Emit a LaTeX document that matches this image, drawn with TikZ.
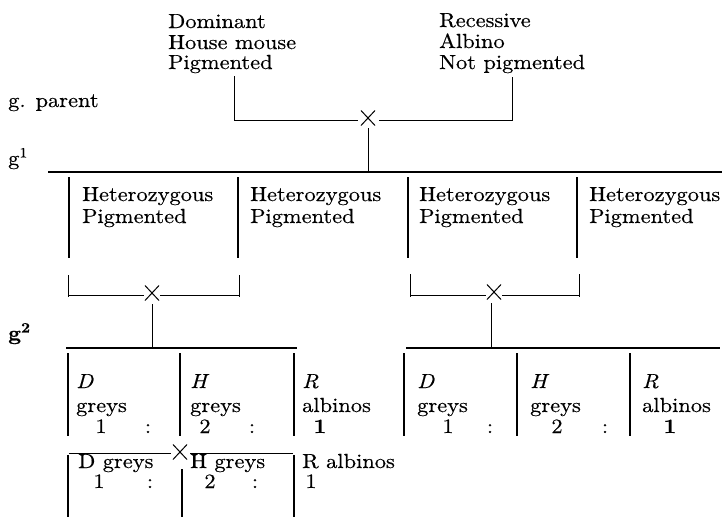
\documentclass[tikz,border=0pt]{standalone}
\usepackage{fontspec}
\setmainfont{lmroman10-regular}[Extension=.otf, FakeStretch=1.1, FakeBold=0.4, ItalicFont=lmroman10-italic, BoldFont=lmroman10-bold]
\usetikzlibrary{shapes.misc}
\tikzset{
  txt/.style={font=\fontsize{20.4}{22}\selectfont, inner sep=0pt, anchor=base west},
  num/.style={font=\fontsize{20.4}{22}\selectfont, inner sep=0pt, anchor=base},
  thinln/.style={line width=0.9pt},
  divln/.style={line width=1.5pt},
  genln/.style={line width=2.2pt},
  g2ln/.style={line width=1.7pt},
  crossmark/.style={cross out, draw, line width=1pt, minimum width=13pt, minimum height=14pt, inner sep=0pt},
}
\begin{document}
\begin{tikzpicture}[x=1pt,y=-1pt]
\useasboundingbox (0,0) rectangle (724,517);
% ---------- parents ----------
\node[txt] (dom1) at (168,28) {Dominant};
\node[txt] (dom2) at (168,49) {House mouse};
\node[txt] (dom3) at (168,69) {Pigmented};
\node[txt] (rec1) at (439,27) {Recessive};
\node[txt] (rec2) at (439,48) {Albino};
\node[txt] (rec3) at (439,69) {Not pigmented};
% generation labels
\node[txt] (gp) at (8,107) {g. parent};
\node[txt] (g1) at (8,165) {g\textsuperscript{1}};
\node[txt] (g2) at (8,340) {\textbf{g\textsuperscript{2}}};
% first cross
\node[crossmark] (x1) at (368,118) {};
\coordinate (pa) at (234,76);
\coordinate (pb) at (234,120);
\coordinate (pbx) at (358,120);
\coordinate (pcx) at (379,120);
\coordinate (pc) at (512,77);
\coordinate (pd) at (512,120);
\draw[thinln] (pa) -- (pb) -- (pbx);
\draw[thinln] (pcx) -- (pd) -- (pc);
\coordinate (x1d) at (368,128);
\coordinate (g1m) at (368,172);
\draw[thinln] (x1d) -- (g1m);
% g1 line
\coordinate (g1l) at (48,172);
\coordinate (g1r) at (722,172);
\draw[genln] (g1l) -- (g1r);
% g1 columns
\foreach \x/\n in {69/a,238/b,408/c,577/d}{
  \coordinate (d1\n t) at (\x,177);
  \coordinate (d1\n b) at (\x,258);
  \draw[divln] (d1\n t) -- (d1\n b);
}
\foreach \x/\n in {82/a,250/b,419/c,589/d}{
  \node[txt] (het\n) at (\x,201) {Heterozygous};
  \node[txt] (pig\n) at (\x,223) {Pigmented};
}
% second crosses
\node[crossmark] (x2) at (152,293) {};
\coordinate (la) at (68,275);  \coordinate (lb) at (68,297);
\coordinate (lra) at (239,275); \coordinate (lrb) at (239,297);
\coordinate (lh1) at (68,295); \coordinate (lh2) at (144,295);
\coordinate (lh3) at (160,295); \coordinate (lh4) at (239,295);
\draw[thinln] (la) -- (lb);
\draw[thinln] (lra) -- (lrb);
\draw[thinln] (lh1) -- (lh2);
\draw[thinln] (lh3) -- (lh4);
\coordinate (x2d) at (152,304);
\coordinate (x2e) at (152,347);
\draw[thinln] (x2d) -- (x2e);

\node[crossmark] (x3) at (494,292) {};
\coordinate (ra) at (410,274);  \coordinate (rb) at (410,297);
\coordinate (rra) at (579,274); \coordinate (rrb) at (579,297);
\coordinate (rh1) at (410,295); \coordinate (rh2) at (486,295);
\coordinate (rh3) at (502,295); \coordinate (rh4) at (579,295);
\draw[thinln] (ra) -- (rb);
\draw[thinln] (rra) -- (rrb);
\draw[thinln] (rh1) -- (rh2);
\draw[thinln] (rh3) -- (rh4);
\coordinate (x3d) at (491,303);
\coordinate (x3e) at (491,347);
\draw[thinln] (x3d) -- (x3e);
% g2 lines
\coordinate (g2la) at (66,348);  \coordinate (g2lb) at (297,348);
\coordinate (g2ra) at (406,348); \coordinate (g2rb) at (720,348);
\draw[g2ln] (g2la) -- (g2lb);
\draw[g2ln] (g2ra) -- (g2rb);
\foreach \x/\n in {68/a,180/b,294/c,404/d,517/e,630/f}{
  \coordinate (d2\n t) at (\x,353);
  \coordinate (d2\n b) at (\x,436);
  \draw[divln] (d2\n t) -- (d2\n b);
}
% g2 texts left
\node[txt] (lD) at (76,388) {\textit{D}};
\node[txt] (lDg) at (76,412) {greys};
\node[num] (lD1) at (101,433) {1};
\node[num] (lDc) at (148,433) {:};
\node[txt] (lH) at (190,388) {\textit{H}};
\node[txt] (lHg) at (190,412) {greys};
\node[num] (lH2) at (205,433) {2};
\node[num] (lHc) at (252,433) {:};
\node[txt] (lR) at (302,388) {\textit{R}};
\node[txt] (lRa) at (302,412) {albinos};
\node[num] (lR1) at (320,433) {\textbf{1}};
% g2 texts right
\node[txt] (rD) at (417,388) {\textit{D}};
\node[txt] (rDg) at (417,412) {greys};
\node[num] (rD1) at (448,433) {1};
\node[num] (rDc) at (490,433) {:};
\node[txt] (rH) at (530,388) {\textit{H}};
\node[txt] (rHg) at (530,412) {greys};
\node[num] (rH2) at (557,433) {2};
\node[num] (rHc) at (605,433) {:};
\node[txt] (rR) at (642,388) {\textit{R}};
\node[txt] (rRa) at (642,412) {albinos};
\node[num] (rR1) at (670,433) {\textbf{1}};
% bottom row
\node[crossmark] (x4) at (180,452) {};
\coordinate (b1) at (69,453);  \coordinate (b2) at (171,453);
\coordinate (b3) at (190,453); \coordinate (b4) at (293,453);
\draw[thinln] (b1) -- (b2);
\draw[thinln] (b3) -- (b4);
\coordinate (bv1t) at (68,455);  \coordinate (bv1b) at (68,517);
\coordinate (bv2t) at (182,469); \coordinate (bv2b) at (182,517);
\coordinate (bv3t) at (294,455); \coordinate (bv3b) at (294,517);
\draw[divln] (bv1t) -- (bv1b);
\draw[divln] (bv2t) -- (bv2b);
\draw[divln] (bv3t) -- (bv3b);
\node[txt] (bD) at (78,468) {D greys};
\node[num] (bD1) at (99,488) {1};
\node[num] (bDc) at (150,488) {:};
\node[txt] (bH) at (190,468) {H greys};
\node[num] (bH2) at (210,488) {2};
\node[num] (bHc) at (255,488) {:};
\node[txt] (bR) at (302,468) {R albinos};
\node[num] (bR1) at (311,488) {1};
\end{tikzpicture}
\end{document}
